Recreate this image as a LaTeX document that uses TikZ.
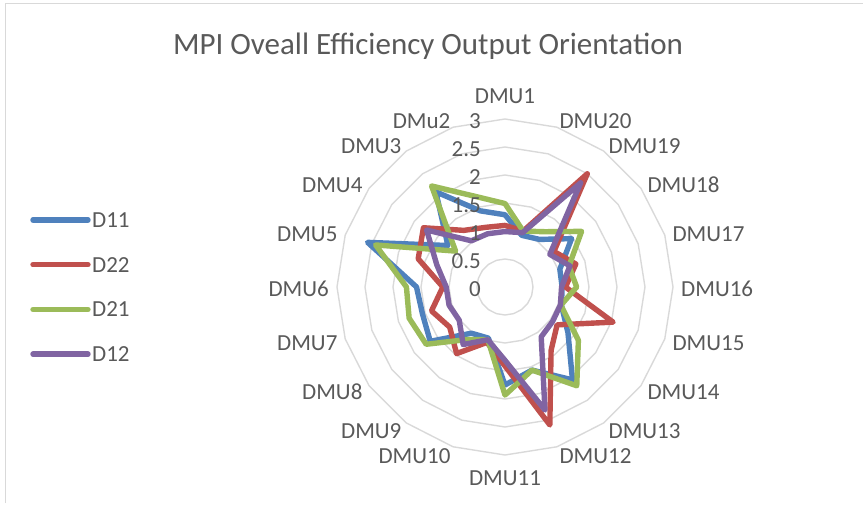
\documentclass[tikz,border=0pt]{standalone}
\usepackage{fontspec}
\setmainfont{Carlito}
\definecolor{cD11}{HTML}{4F81BD}
\definecolor{cD22}{HTML}{C0504D}
\definecolor{cD21}{HTML}{9BBB59}
\definecolor{cD12}{HTML}{8064A2}
\definecolor{gridgray}{HTML}{D9D9D9}
\definecolor{txtgray}{HTML}{595959}

\begin{document}
\begin{tikzpicture}[x=1pt,y=1pt,
    gridline/.style={draw=gridgray,line width=1.4pt},
    series/.style={line width=5.4pt,line join=round,line cap=round},
    lbl/.style={text=txtgray,inner sep=0pt,font=\fontsize{23}{28}\selectfont}]
    \useasboundingbox (-505,-219) rectangle (358,287);
    % chart frame
    \draw[gridgray,line width=1pt] (-499,-216) -- (-499,283) -- (358,283);
    % title
    \node[text=txtgray,inner sep=0pt,anchor=base,font=\fontsize{31}{37}\selectfont] (title) at (-77,232) {MPI Oveall Efficiency Output Orientation};
    % rings
    \foreach \r in {0.5,1,...,3}
        {
            \draw[gridline] (90:{56*\r}) \foreach \k in {1,...,19} { -- ({90+18*\k}:{56*\r}) } -- cycle;
        }
    % series
    \draw[series,cD11] (90:{56*1.29}) \foreach \v [count=\i] in {1.43,2.10,1.26,2.58,1.58,1.55,1.65,1.02,0.96,1.75,1.56,2.05,1.39,1.06,1.02,1.03,1.47,1.05,0.97} { -- ({90+18*\i}:{56*\v}) } -- cycle;
    \draw[series,cD22] (90:{56*1.10}) \foreach \v [count=\i] in {1.12,1.25,1.80,1.63,1.11,1.38,1.22,1.47,1.04,1.41,2.59,1.40,1.15,2.03,1.08,1.33,1.08,2.50,1.05} { -- ({90+18*\i}:{56*\v}) } -- cycle;
    \draw[series,cD21] (90:{56*1.49}) \foreach \v [count=\i] in {1.70,2.23,1.09,2.43,1.76,1.80,1.74,1.16,0.99,1.93,1.56,2.18,1.62,1.05,1.28,1.20,1.69,1.22,1.05} { -- ({90+18*\i}:{56*\v}) } -- cycle;
    \draw[series,cD12] (90:{56*0.99}) \foreach \v [count=\i] in {1.00,1.02,1.73,1.28,1.05,1.05,1.01,1.27,0.99,1.31,2.31,1.10,1.05,1.04,1.01,1.22,0.99,2.30,1.02} { -- ({90+18*\i}:{56*\v}) } -- cycle;
    % category labels
    \node[lbl,anchor=south] (c1) at (90:183) {DMU1};
    \node[lbl,anchor=north] (c11) at (270:183) {DMU11};
    \foreach \lab [count=\i] in {DMu2,DMU3,DMU4,DMU5,DMU6,DMU7,DMU8,DMU9,DMU10}
        \node[lbl,anchor=east,yshift=-1.5pt] (cl\i) at ({90+18*\i}:176) {\lab};
    \foreach \lab [count=\i] in {DMU20,DMU19,DMU18,DMU17,DMU16,DMU15,DMU14,DMU13,DMU12}
        \node[lbl,anchor=west,yshift=-1.5pt] (cr\i) at ({90-18*\i}:176) {\lab};
    % value labels
    \foreach \t [count=\j] in {0,0.5,1,1.5,2,2.5,3}
        \node[lbl,anchor=east] (v\j) at (-24,{56*\t-2.3}) {\t};
    % legend
    \foreach \s [count=\i] in {D11,D22,D21,D12}
        {
            \draw[series,c\s] (-472,{111.7-44.7*\i}) -- (-417,{111.7-44.7*\i});
            \node[lbl,anchor=west] (leg\i) at (-413,{111.7-44.7*\i}) {\s};
        }
\end{tikzpicture}
\end{document}
